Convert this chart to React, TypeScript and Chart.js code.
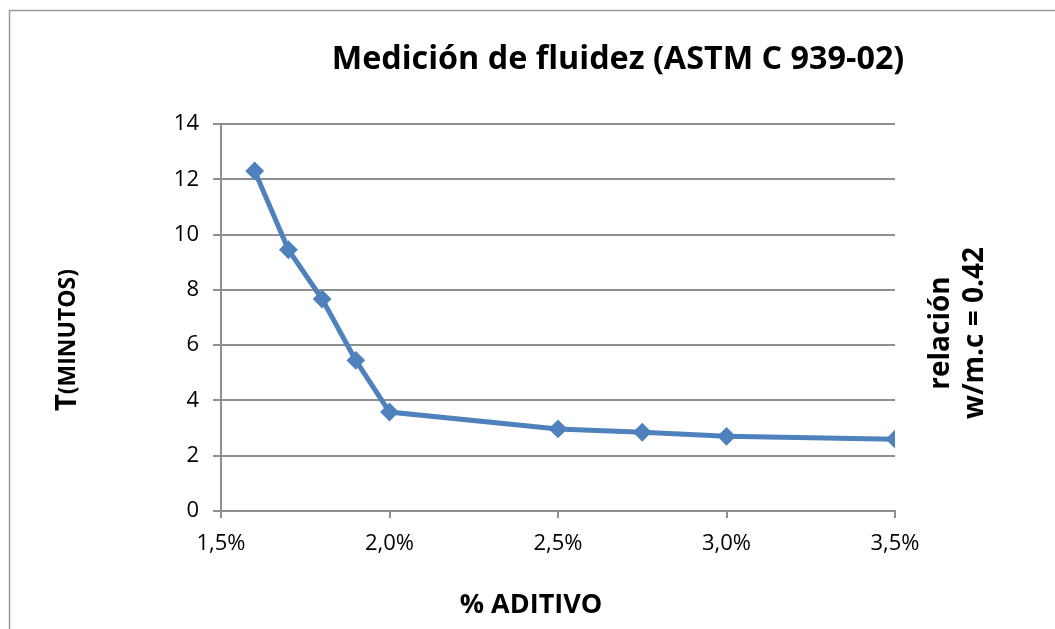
import React, { useEffect, useRef } from "react";
import { Chart, registerables } from "chart.js";

Chart.register(...registerables);

const aditivo = [1.6, 1.7, 1.8, 1.9, 2.0, 2.5, 2.75, 3.0, 3.5];
const tiempo = [12.3, 9.45, 7.67, 5.45, 3.58, 2.97, 2.85, 2.7, 2.6];
const xTicks = [1.5, 2.0, 2.5, 3.0, 3.5];
const yTicks = [0, 2, 4, 6, 8, 10, 12, 14];

const titleText = "Medición de fluidez (ASTM C 939-02)";
const xTitle = "% ADITIVO";
const yTitleMain = "T";
const yTitleRest = "(MINUTOS)";
const rightTitle = ["relación", "w/m.c = 0.42"];

const FONT = "'Open Sans', 'Liberation Sans', sans-serif";
const BLUE = "#4F81BD";
const GRID = "#8f8f8f";

const textPlugin = {
  id: "textPlugin",
  afterDraw(chart: any) {
    const ctx = chart.ctx as CanvasRenderingContext2D;
    ctx.save();
    // outer frame
    ctx.strokeStyle = "#9a9a9a";
    ctx.lineWidth = 1.5;
    ctx.beginPath();
    ctx.moveTo(9.5, 700);
    ctx.lineTo(9.5, 10.5);
    ctx.lineTo(1100, 10.5);
    ctx.stroke();

    ctx.fillStyle = "#000";
    ctx.textBaseline = "middle";
    ctx.textAlign = "center";

    // title fitted to width
    let size = 34;
    ctx.font = `bold ${size}px ${FONT}`;
    const w = ctx.measureText(titleText).width;
    const target = 573;
    if (w > target) size = (size * target) / w;
    ctx.font = `bold ${size}px ${FONT}`;
    ctx.fillText(titleText, 618, 60);

    // x title
    ctx.font = `bold 27px ${FONT}`;
    ctx.fillText(xTitle, 531, 605);

    // y title rotated
    ctx.save();
    ctx.translate(68, 340);
    ctx.rotate(-Math.PI / 2);
    ctx.font = `bold 29px ${FONT}`;
    const tw = ctx.measureText(yTitleMain).width;
    ctx.font = `bold 23px ${FONT}`;
    const rw = ctx.measureText(yTitleRest).width;
    const total = tw + rw;
    ctx.textAlign = "left";
    ctx.font = `bold 29px ${FONT}`;
    ctx.fillText(yTitleMain, -total / 2, 0);
    ctx.font = `bold 23px ${FONT}`;
    ctx.fillText(yTitleRest, -total / 2 + tw, 0);
    ctx.restore();

    // right title rotated
    ctx.save();
    ctx.translate(958, 333);
    ctx.rotate(-Math.PI / 2);
    ctx.font = `bold 28px ${FONT}`;
    ctx.textAlign = "center";
    ctx.fillText(rightTitle[0], 0, -17);
    ctx.fillText(rightTitle[1], 0, 17);
    ctx.restore();

    ctx.restore();
  },
};

export default function App() {
  const ref = useRef<HTMLCanvasElement>(null);
  useEffect(() => {
    if (!ref.current) return;
    const chart = new Chart(ref.current, {
      type: "line",
      data: {
        datasets: [
          {
            data: aditivo.map((x, i) => ({ x, y: tiempo[i] })),
            borderColor: BLUE,
            backgroundColor: BLUE,
            borderWidth: 5,
            pointStyle: "rectRot",
            pointRadius: 8,
            pointBorderWidth: 2,
            pointBackgroundColor: BLUE,
            pointBorderColor: BLUE,
            tension: 0,
          },
        ],
      },
      options: {
        responsive: false,
        animation: false,
        layout: { padding: { left: 100, right: 160, top: 124, bottom: 58 } },
        plugins: { legend: { display: false }, tooltip: { enabled: false }, title: { display: false } },
        scales: {
          x: {
            type: "linear",
            min: 1.5,
            max: 3.5,
            afterBuildTicks: (s: any) => {
              s.ticks = xTicks.map((v) => ({ value: v }));
            },
            afterFit: (s: any) => {
              s.height = 60;
            },
            ticks: {
              color: "#000",
              font: { family: FONT, size: 22 },
              padding: 13,
              maxRotation: 0,
              callback: (v: any) => Number(v).toFixed(1).replace(".", ",") + "%",
            },
            grid: { drawOnChartArea: false, drawTicks: true, tickLength: 7, color: GRID, lineWidth: 2 },
            border: { color: GRID, width: 2 },
          },
          y: {
            min: 0,
            max: 14,
            afterBuildTicks: (s: any) => {
              s.ticks = yTicks.map((v) => ({ value: v }));
            },
            afterFit: (s: any) => {
              s.width = 121;
            },
            ticks: {
              color: "#000",
              font: { family: FONT, size: 22 },
              padding: 14,
            },
            grid: { drawOnChartArea: true, drawTicks: true, tickLength: 8, color: GRID, lineWidth: 2 },
            border: { color: GRID, width: 2 },
          },
        },
      },
      plugins: [textPlugin],
    });
    return () => chart.destroy();
  }, []);
  return (
    <div style={{ position: "absolute", left: 0, top: 0, width: 1055, height: 629 }}>
      <canvas ref={ref} width={1055} height={629} style={{ display: "block" }} />
    </div>
  );
}
